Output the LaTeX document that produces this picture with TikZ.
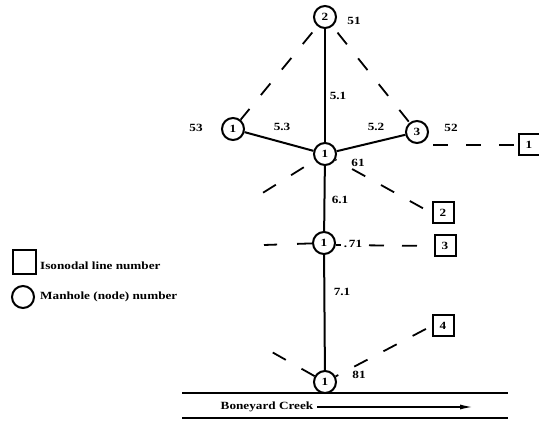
\documentclass[tikz,border=0pt]{standalone}
\usepackage{fontspec}
\setmainfont[FakeStretch=1.2]{Liberation Serif}
\usetikzlibrary{arrows.meta}
\begin{document}
\begin{tikzpicture}[x=1pt,y=-1pt,
  mh/.style={circle,draw,line width=2pt,minimum size=22pt,inner sep=0pt,font=\fontsize{11}{12}\selectfont\bfseries},
  iso/.style={draw,line width=2pt,minimum width=21pt,minimum height=21pt,inner sep=0pt,font=\fontsize{11}{12}\selectfont\bfseries},
  pipe/.style={line width=2pt},
  dsh/.style={line width=1.8pt,dash pattern=on 15pt off 18pt},
  lbl/.style={font=\fontsize{11}{12}\selectfont\bfseries,inner sep=1pt}]
\useasboundingbox (0,0) rectangle (539,422);
% manholes
\node[mh] (n51) at (325,17) {2};
\node[mh] (n53) at (233,129) {1};
\node[mh] (n52) at (417,132) {3};
\node[mh] (n61) at (325,154) {1};
\node[mh] (n71) at (324,243) {1};
\node[mh] (n81) at (325,382) {1};
% isonodal boxes
\node[iso] (b1) at (529,145) {1};
\node[iso] (b2) at (443,213) {2};
\node[iso] (b3) at (445,246) {3};
\node[iso] (b4) at (443,326) {4};
% pipes
\draw[pipe] (n51) -- (n61);
\draw[pipe] (n53) -- (n61);
\draw[pipe] (n52) -- (n61);
\draw[pipe] (n61) -- (n71);
\draw[pipe] (n71) -- (n81);
% isonodal dashed lines
\coordinate (s52) at (433,145);
\coordinate (e61) at (261,194);
\coordinate (e71) at (264,245);
\coordinate (s71) at (336,245);
\coordinate (e81) at (263,347);
\draw[dsh,dash phase=25pt] (n51) -- (n53);
\draw[dsh,dash phase=25pt] (n51) -- (n52);
\draw[dsh] (s52) -- (b1.west);
\draw[dsh,dash phase=20pt] (n61) -- (e61);
\draw[dsh,dash phase=14pt] (n61) -- (b2.west);
\draw[dsh,dash pattern=on 15pt off 20pt] (n71) -- (e71);
\draw[dsh,dash phase=0pt] (s71) -- (b3.west);
\draw[dsh,dash phase=0pt] (n81) -- (e81);
\draw[dsh,dash phase=12pt] (n81) -- (b4.west);
% labels
\node[lbl] (l51) at (354,21) {51};
\node[lbl] (l53) at (196,128) {53};
\node[lbl] (l53p) at (282,127) {5.3};
\node[lbl] (l52p) at (376,127) {5.2};
\node[lbl] (l52) at (451,128) {52};
\node[lbl] (l51p) at (338,96) {5.1};
\node[lbl] (l61) at (358,163) {61};
\node[lbl] (l61p) at (340,200) {6.1};
\node[lbl,fill=white,inner sep=3pt] (l71) at (353,244) {.\,71};
\node[lbl] (l71p) at (342,292) {7.1};
\node[lbl] (l81) at (359,375) {81};
% creek
\coordinate (cl1) at (182,393);
\coordinate (cr1) at (508,393);
\coordinate (cl2) at (182,418);
\coordinate (cr2) at (508,418);
\draw[pipe] (cl1) -- (cr1);
\draw[pipe] (cl2) -- (cr2);
\node[lbl] (creek) at (267,407) {Boneyard Creek};
\coordinate (a1) at (317,407);
\coordinate (a2) at (473,407);
\draw[line width=1.5pt,-{Latex[length=13pt,width=5pt]}] (a1) -- (a2);
% legend
\node[iso,minimum width=23pt,minimum height=24pt] (lsq) at (24.5,262.5) {};
\node[lbl,anchor=west] (lsqt) at (39,266) {Isonodal line number};
\node[mh] (lci) at (23,297) {};
\node[lbl,anchor=west] (lcit) at (39,297) {Manhole (node) number};
\end{tikzpicture}
\end{document}
